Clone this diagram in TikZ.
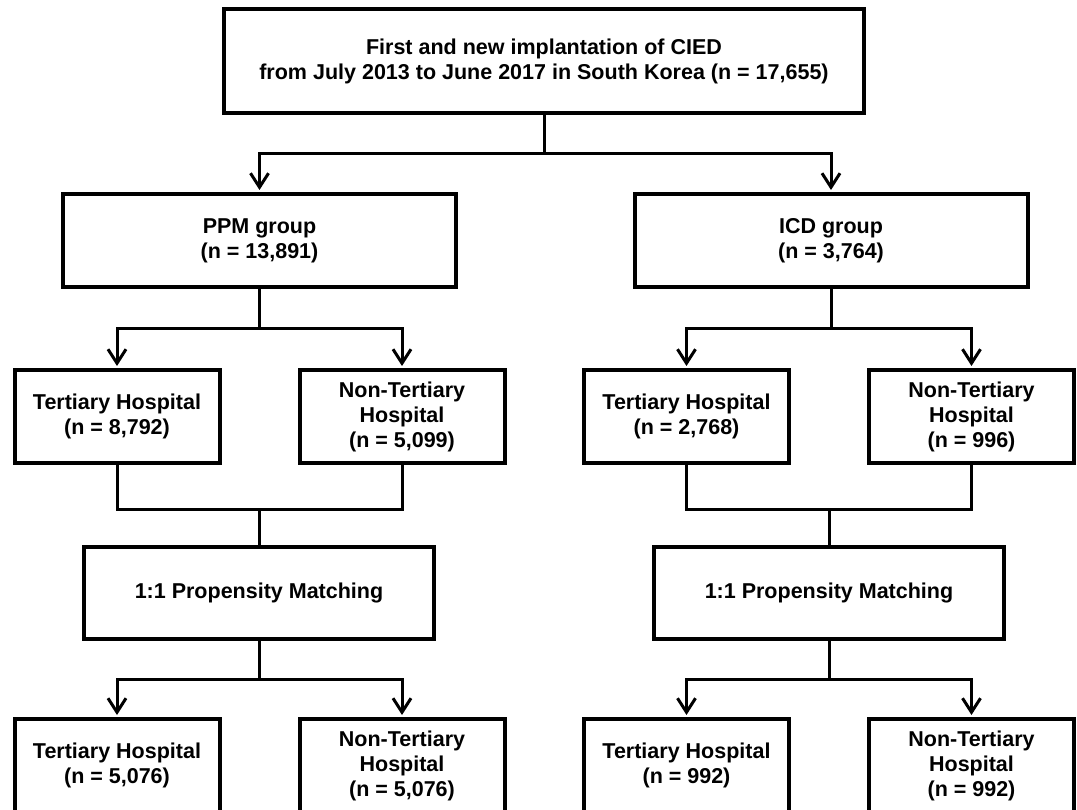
\documentclass[tikz,border=0pt]{standalone}
\usepackage{fontspec}
\setmainfont{Liberation Sans}
\usetikzlibrary{arrows.meta}
\begin{document}
\begin{tikzpicture}[x=1pt,y=-1pt,
  box/.style={draw=black, line width=4pt, inner sep=0pt, align=center,
    font=\fontsize{21.5}{25}\selectfont\bfseries},
  small/.style={box, minimum width=205pt, minimum height=93pt},
  match/.style={box, minimum width=350pt, minimum height=92pt},
  group/.style={box, minimum width=393pt, minimum height=93pt},
  conn/.style={line width=3pt},
  arr/.style={conn, shorten >=2pt, -{Straight Barb[length=14pt,width=18pt]}}]
\useasboundingbox (0,0) rectangle (1077,810);
\fill[white] (0,0) rectangle (1077,810);
\clip (0,0) rectangle (1077,810);

\node[box, minimum width=640pt, minimum height=104pt] (top) at (544,61)
  {First and new implantation of CIED\\from July 2013 to June 2017 in South Korea (n = 17,655)};

\node[group] (ppm) at (259.5,240.5) {PPM group\\(n = 13,891)};
\node[group] (icd) at (831,240.5) {ICD group\\(n = 3,764)};

\node[small] (t1) at (117,416.5) {Tertiary Hospital\\(n = 8,792)};
\node[small] (n1) at (402,416.5) {Non-Tertiary\\Hospital\\(n = 5,099)};
\node[small] (t2) at (686.5,416.5) {Tertiary Hospital\\(n = 2,768)};
\node[small] (n2) at (971.5,416.5) {Non-Tertiary\\Hospital\\(n = 996)};

\node[match] (m1) at (259,593) {1:1 Propensity Matching};
\node[match] (m2) at (829,593) {1:1 Propensity Matching};

\node[small] (b1) at (117,765.5) {Tertiary Hospital\\(n = 5,076)};
\node[small] (b2) at (402,765.5) {Non-Tertiary\\Hospital\\(n = 5,076)};
\node[small] (b3) at (686.5,765.5) {Tertiary Hospital\\(n = 992)};
\node[small] (b4) at (971.5,765.5) {Non-Tertiary\\Hospital\\(n = 992)};

% level 1
\coordinate (j0) at (544,154);
\draw[conn] (top.south) -- (j0);
\draw[arr] (j0) -| (ppm.north);
\draw[arr] (j0) -| (icd.north);

% level 2
\coordinate (j1) at (259.5,329);
\coordinate (j2) at (831,329);
\draw[conn] (ppm.south) -- (j1);
\draw[arr] (j1) -| (t1.north);
\draw[arr] (j1) -| (n1.north);
\draw[conn] (icd.south) -- (j2);
\draw[arr] (j2) -| (t2.north);
\draw[arr] (j2) -| (n2.north);

% level 3
\coordinate (k1) at (259,509);
\coordinate (k2) at (829,509);
\draw[conn] (t1.south) |- (k1) -| (n1.south);
\draw[conn] (k1) -- (m1.north);
\draw[conn] (t2.south) |- (k2) -| (n2.south);
\draw[conn] (k2) -- (m2.north);

% level 4
\coordinate (l1) at (259,679);
\coordinate (l2) at (829,679);
\draw[conn] (m1.south) -- (l1);
\draw[arr] (l1) -| (b1.north);
\draw[arr] (l1) -| (b2.north);
\draw[conn] (m2.south) -- (l2);
\draw[arr] (l2) -| (b3.north);
\draw[arr] (l2) -| (b4.north);
\end{tikzpicture}
\end{document}
